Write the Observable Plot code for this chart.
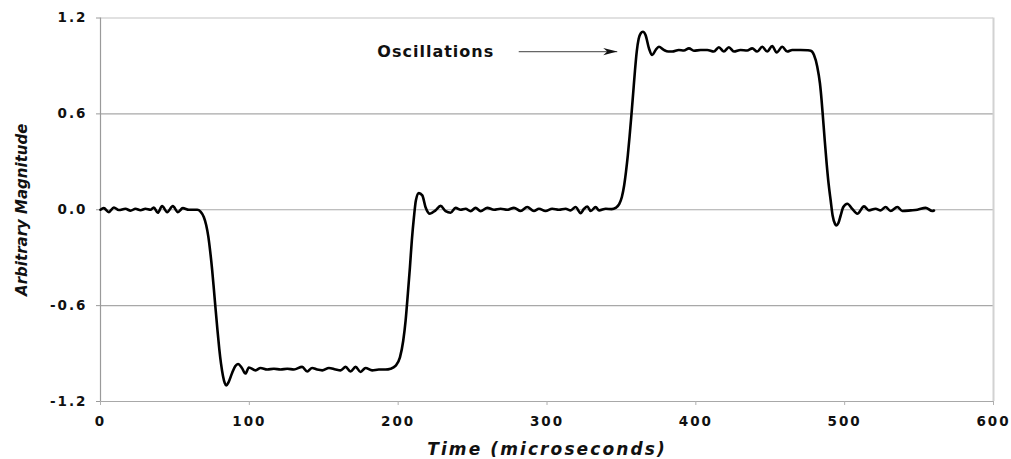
<!DOCTYPE html>
<html>
<head>
<meta charset="utf-8">
<script src="https://cdn.jsdelivr.net/npm/d3@7"></script>
<script src="https://cdn.jsdelivr.net/npm/@observablehq/plot@0.6"></script>
<style>
  html, body { margin: 0; padding: 0; background: #fff; }
</style>
</head>
<body>
<div id="chart"></div>
<script>
// ---- data ----
const time = [
  0, 2.2, 5.6, 9.0, 12.3, 16.8, 20.2, 23.5, 26.9, 30.2, 33.6, 35.8, 38.5, 41.4, 44.8, 48.6, 52.0, 55.3, 59.4, 65.0,
  67.2, 69.4, 71.0, 72.4, 73.7, 75.0, 76.2, 77.4, 78.6, 79.8, 81.0, 82.3, 83.5, 84.5, 86.0, 88.5, 90.5, 92.4, 95.0, 97.4, 99.7,
  104.2, 107.5, 112, 116.5, 121, 125.5, 130, 135.5, 138.9, 142.2, 145.6, 149, 153.5, 158, 161.3, 164.7, 168, 171.4, 174.7, 178.1, 182.5, 187, 191.5, 194.9,
  198.2, 201.2, 203.4, 205, 206.5, 207.9, 209.2, 210.6, 211.9, 213.9, 216.2, 218.4, 221.3, 225.1, 228.5, 231.9, 235.2, 238.6, 242, 245.3, 248.7, 252, 255.4,
  259.9, 264.4, 268.8, 273.3, 277.8, 282.3, 286.7, 291.2, 294.6, 299, 303.5, 308, 312.5, 315.9, 319.2, 322.6, 324.9, 327.1, 329.4, 332.7, 335, 339.5, 343.5,
  346.1, 348.5, 350.3, 351.8, 353.1, 354.3, 355.5, 356.7, 357.9, 359.1, 360.3, 361.6, 363.0, 364.4, 366.2, 368.5, 370.7, 373.0, 375.2, 378.5, 381.5, 384.1, 388.6, 392, 395.4, 398.7, 403.2, 407.7,
  412.1, 415.5, 418.8, 422.2, 425.6, 430, 434.5, 437.9, 441.2, 444.6, 448, 451.3, 454.3, 458.1, 461.4, 464.8, 470.4, 475, 477.2,
  479.4, 481.6, 483.4, 484.5, 485.4, 486.6, 487.9, 489.2, 490.6, 491.9, 493.5, 494.4, 495.8, 497.3, 499.1, 501.8, 505.1, 508.5, 513, 516.3, 520.8, 524.2, 527.5, 530.9, 535.4, 538.8,
  544.4, 548.9, 554.4, 558.9, 560
];
const magnitude = [
  0, 0.010, -0.015, 0.014, -0.002, 0.006, -0.006, 0.006, -0.003, 0.006, 0.0, 0.014, -0.019, 0.023, -0.015, 0.023, -0.015, 0.010, 0.0, 0.0,
  -0.012, -0.045, -0.095, -0.165, -0.26, -0.375, -0.50, -0.63, -0.755, -0.87, -0.965, -1.04, -1.085, -1.10, -1.08, -1.02, -0.98, -0.965, -0.99, -1.025, -0.987,
  -1.005, -0.99, -1.0, -0.995, -1.0, -0.995, -1.0, -0.983, -1.012, -0.99, -1.0, -1.005, -0.99, -1.0, -1.005, -0.983, -1.012, -0.983, -1.015, -0.99, -1.005, -1.0, -1.0, -0.995,
  -0.977, -0.924, -0.82, -0.694, -0.527, -0.36, -0.19, -0.046, 0.058, 0.104, 0.09, 0.016, -0.025, -0.004, 0.024, -0.009, -0.019, 0.012, 0.0, 0.006, -0.009, 0.012, -0.009,
  0.012, 0.0, 0.006, 0.0, 0.012, -0.008, 0.017, -0.008, 0.006, -0.008, 0.006, 0.0, 0.006, -0.004, 0.017, -0.021, 0.006, 0.02, -0.008, 0.017, -0.004, 0.006, 0.004,
  0.012, 0.035, 0.08, 0.15, 0.24, 0.34, 0.46, 0.59, 0.73, 0.87, 0.99, 1.07, 1.105, 1.114, 1.094, 1.01, 0.968, 1.0, 1.02, 1.0, 0.99, 0.99, 1.0, 0.997, 1.01, 0.995, 1.0, 1.0,
  0.99, 1.017, 0.99, 1.017, 0.99, 1.0, 0.997, 1.01, 0.99, 1.02, 0.99, 1.025, 0.984, 1.02, 0.99, 1.0, 1.0, 0.998, 0.995,
  0.968, 0.895, 0.79, 0.685, 0.58, 0.435, 0.289, 0.163, 0.058, -0.036, -0.088, -0.098, -0.083, -0.036, 0.017, 0.038, 0.006, -0.025, 0.021, -0.004, 0.006, -0.004, 0.017, -0.008, 0.017, -0.008,
  -0.004, 0.0, 0.012, -0.008, -0.005
];
const xTicks = [0, 100, 200, 300, 400, 500, 600];
const yTicks = [-1.2, -0.6, 0.0, 0.6, 1.2];
const xLabel = "Time (microseconds)";
const yLabel = "Arbitrary Magnitude";
const noteText = ["Oscillations"];
const noteX = [186];
const noteY = [0.99];
const arrowStart = [281];
const arrowEnd = [347.2];

// ---- build ----
const series = time.map((t, i) => ({t, v: magnitude[i]}));
const note = noteText.map((s, i) => ({s, x: noteX[i], y: noteY[i], x1: arrowStart[i], x2: arrowEnd[i]}));

const arrowHead = {
  draw(ctx) {
    ctx.moveTo(0, 0);
    ctx.lineTo(-14, -3.6);
    ctx.lineTo(-10, 0);
    ctx.lineTo(-14, 3.6);
    ctx.closePath();
  }
};

const chart = Plot.plot({
  width: 1011,
  height: 459,
  marginLeft: 100,
  marginRight: 18,
  marginTop: 17.5,
  marginBottom: 58,
  style: {background: "#fff", fontFamily: "DejaVu Sans, sans-serif", fontSize: "13.5px", fontWeight: "bold", color: "#111"},
  x: {domain: [0, 600]},
  y: {domain: [-1.2, 1.2]},
  marks: [
    Plot.ruleY(yTicks.filter(d => d !== 1.2), {stroke: "#a8a8a8", strokeWidth: 1.1}),
    Plot.ruleY([1.2], {stroke: "#c4c4c4", strokeWidth: 1.1}),
    Plot.ruleX([600], {y1: -1.2, y2: 1.2, stroke: "#d2d2d2", strokeWidth: 2}),
    Plot.ruleX([0], {y1: -1.2, y2: 1.2, stroke: "#9a9a9a", strokeWidth: 1.2}),
    Plot.axisY({ticks: yTicks, tickFormat: d => d.toFixed(1), tickSize: 4, tickPadding: 9, stroke: "#9a9a9a", fill: "#111", label: null}),
    Plot.axisX({ticks: xTicks, tickFormat: d => String(d), tickSize: 4, tickPadding: 11, stroke: "#b0b0b0", fill: "#111", label: null}),
    Plot.line(series, {x: "t", y: "v", stroke: "#000", strokeWidth: 2.6, curve: "monotone-x"}),
    Plot.link(note, {x1: "x1", x2: "x2", y1: "y", y2: "y", stroke: "#666", strokeWidth: 1.2}),
    Plot.dot(note, {x: "x2", y: "y", symbol: arrowHead, fill: "#111", stroke: "none"}),
    Plot.text(note, {x: "x", y: "y", text: "s", textAnchor: "start", fontSize: 16, fontWeight: "bold", fill: "#111", lineAnchor: "middle"}),
    Plot.text([xLabel], {frameAnchor: "bottom", textAnchor: "middle", dy: 48, fontSize: 17, fontWeight: "bold", fontStyle: "italic", fill: "#111", lineAnchor: "middle"}),
    Plot.text([yLabel], {frameAnchor: "left", textAnchor: "middle", dx: -78, rotate: -90, fontSize: 15, fontWeight: "bold", fontStyle: "italic", fill: "#111", lineAnchor: "middle"})
  ]
});

const svg = d3.select(chart);
svg.selectAll('g[aria-label="x-axis tick label"] text, g[aria-label="y-axis tick label"] text').style("letter-spacing", "2px");
svg.selectAll("text").each(function() {
  const t = this.textContent;
  if (t === xLabel) d3.select(this).style("letter-spacing", "2.1px");
  if (noteText.includes(t)) d3.select(this).style("letter-spacing", "1px");
});
document.getElementById("chart").appendChild(chart);
</script>
</body>
</html>
